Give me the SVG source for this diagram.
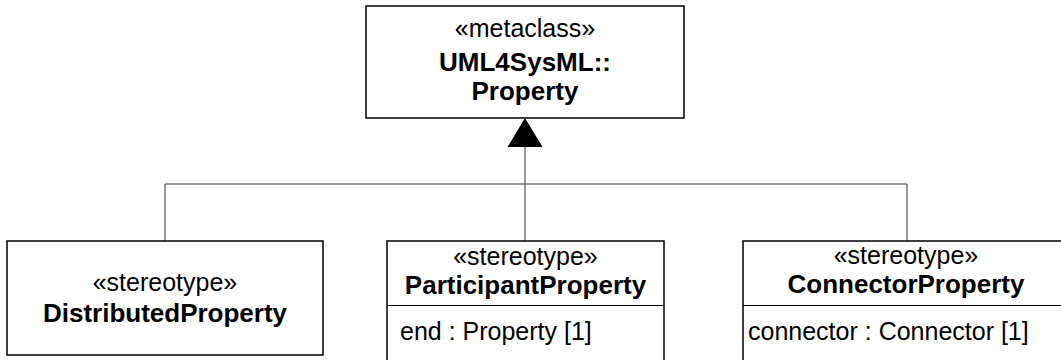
<svg xmlns="http://www.w3.org/2000/svg" width="1061" height="360" viewBox="0 0 1061 360">
<style>
.box{fill:#fff;stroke:#000;stroke-width:1.5}
.div{stroke:#000;stroke-width:1}
.con{fill:none;stroke:#333;stroke-width:1}
text{font-family:"Liberation Sans",Arial,sans-serif;font-size:25px;fill:#000}
.c{text-anchor:middle}
.b{font-weight:bold;font-size:26px}
</style>
<rect width="1061" height="360" fill="#fff"/>
<g id="connectors">
<path class="con" d="M525,147 V241 M165,241 V184 H907 V241"/>
<polygon points="525,118 507.5,147 542.5,147" fill="#000"/>
</g>
<g id="Property">
<rect class="box" x="366" y="6" width="318" height="112"/>
<text class="c" x="525" y="37">«metaclass»</text>
<text class="c b" x="525" y="71">UML4SysML::</text>
<text class="c b" x="525" y="100">Property</text>
</g>
<g id="DistributedProperty">
<rect class="box" x="7" y="241" width="316" height="114"/>
<text class="c" x="165" y="291">«stereotype»</text>
<text class="c b" x="165" y="322">DistributedProperty</text>
</g>
<g id="ParticipantProperty">
<rect class="box" x="387" y="241" width="277" height="130"/>
<line class="div" x1="387" y1="305.5" x2="664" y2="305.5"/>
<text class="c" x="525.5" y="265">«stereotype»</text>
<text class="c b" x="525.5" y="294">ParticipantProperty</text>
<text x="400" y="340">end : Property [1]</text>
</g>
<g id="ConnectorProperty">
<rect class="box" x="743" y="241" width="330" height="130"/>
<line class="div" x1="743" y1="305.5" x2="1073" y2="305.5"/>
<text class="c" x="906" y="264">«stereotype»</text>
<text class="c b" x="906" y="293">ConnectorProperty</text>
<text x="748" y="340">connector : Connector [1]</text>
</g>
</svg>
